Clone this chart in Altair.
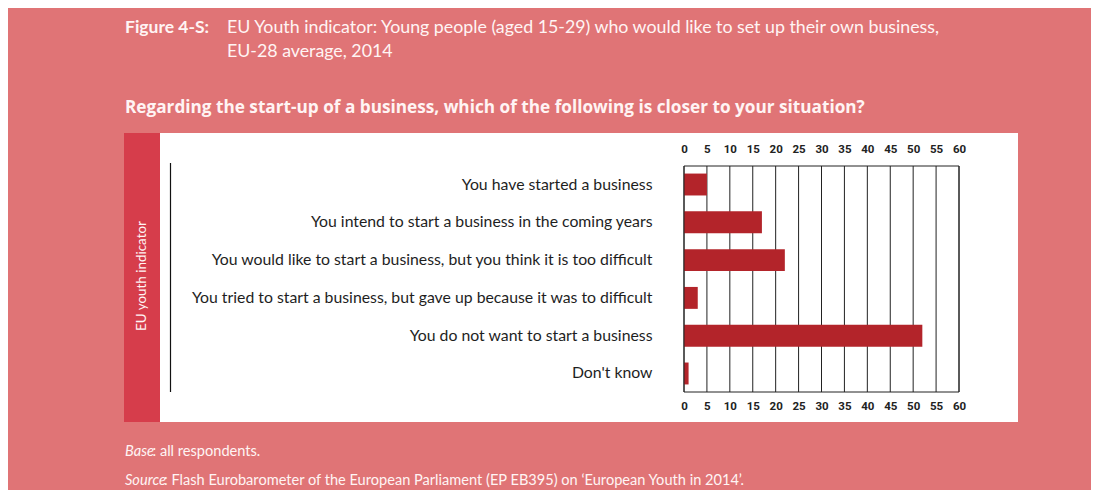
import altair as alt
import pandas as pd

# ---- data ----
categories = [
    "You have started a business",
    "You intend to start a business in the coming years",
    "You would like to start a business, but you think it is too difficult",
    "You tried to start a business, but gave up because it was to difficult",
    "You do not want to start a business",
    "Don't know",
]
values = [5, 17, 22, 3, 52, 1]
ticks = list(range(0, 61, 5))

title_bold = "Figure 4-S:"
title_line1 = "EU Youth indicator: Young people (aged 15-29) who would like to set up their own business,"
title_line2 = "EU-28 average, 2014"
question = "Regarding the start-up of a business, which of the following is closer to your situation?"
side_label = "EU youth indicator"
base_it, base_rest = "Base", ": all respondents."
source_it, source_rest = "Source", ": Flash Eurobarometer of the European Parliament (EP EB395) on \u2018European Youth in 2014\u2019."

df = pd.DataFrame({"cat": categories, "val": values})
df_ticks = pd.DataFrame({"t": ticks})

# ---- layout (page coords -> view coords) ----
VX, VY = 684, 166       # page position of plot-area origin
W, H = 275, 226         # plot area size
TOTAL_W, TOTAL_H = 1083, 482
PAD_L, PAD_T = VX - 8, VY - 8

def P(x):
    return x - VX

def Q(y):
    return y - VY

BG = "#E07476"
STRIP = "#D63D4B"
BAR = "#B3242A"
TXT = "#FFF4F4"
FONT = "Lato"

one = pd.DataFrame({"a": [0]})

def rect(x, x2, y, y2, color):
    return alt.Chart(one).mark_rect(color=color).encode(
        x=alt.value(x), x2=alt.value(x2), y=alt.value(y), y2=alt.value(y2)
    )

def text(s, x, y, size, weight="normal", style="normal", color=TXT, angle=0,
         align="left", font=FONT):
    kw = dict(fontSize=size, font=font, fontWeight=weight, fontStyle=style,
              color=color, align=align, baseline="middle")
    if angle:
        kw["angle"] = angle
    return alt.Chart(one).mark_text(**kw).encode(
        x=alt.value(x), y=alt.value(y), text=alt.value(s)
    )

panel = rect(P(160), P(1018), Q(133), Q(422), "white")
strip = rect(P(124), P(160), Q(133), Q(422), STRIP)
vline = alt.Chart(one).mark_rule(color="#111111", strokeWidth=1.2).encode(
    x=alt.value(P(170.5)), y=alt.value(Q(163)), y2=alt.value(Q(392))
)

texts = [
    text(title_bold, P(125), Q(28), 17.5, weight="bold"),
    text(title_line1, P(227), Q(28), 17.8),
    text(title_line2, P(227), Q(52), 17.8),
    text(question, P(125), Q(108), 17.2, weight="bold", font="Open Sans"),
    text(base_it, P(125), Q(452), 14.6, style="italic"),
    text(base_rest, P(152.5), Q(452), 14.6),
    text(source_it, P(125), Q(481), 14.6, style="italic"),
    text(source_rest, P(164), Q(481), 14.6),
    text(side_label, P(142), Q(276), 13.4, angle=270, align="center"),
]

xscale = alt.Scale(domain=[0, 60], nice=False, zero=True)
yscale = alt.Scale(paddingInner=0.42, paddingOuter=0.2)

tick_font = "Roboto"

def xaxis(orient, pad):
    return alt.Axis(orient=orient, values=ticks, title=None, grid=False,
                    domain=False, ticks=False, tickSize=0, labelPadding=pad,
                    labelFlush=False, labelOverlap=False,
                    labelFont=tick_font, labelFontWeight="bold",
                    labelFontSize=11.5, labelColor="#222222", zindex=2)

grid = alt.Chart(df_ticks).mark_rule(color="#222222", strokeWidth=1).encode(
    x=alt.X("t:Q", scale=xscale, axis=xaxis("bottom", 8))
)

bars = alt.Chart(df).mark_bar(color=BAR).encode(
    x=alt.X("val:Q", scale=xscale, axis=xaxis("top", 12)),
    y=alt.Y("cat:N", sort=categories, scale=yscale,
            axis=alt.Axis(title=None, domain=False, ticks=False, tickSize=0,
                          labelPadding=32, labelLimit=700, labelFont=FONT,
                          labelFontSize=15.8, labelColor="#1E1E1E", zindex=2)),
)

border = alt.Chart(one).mark_rect(fillOpacity=0, stroke="#222222", strokeWidth=1).encode(
    x=alt.value(0), x2=alt.value(W), y=alt.value(0), y2=alt.value(H)
)

chart = alt.layer(panel, strip, vline, *texts, grid, bars, border).resolve_axis(
    x="independent"
).properties(
    width=W, height=H,
    autosize=alt.AutoSizeParams(type="none"),
    padding={"left": PAD_L, "top": PAD_T, "right": TOTAL_W - PAD_L - W,
             "bottom": TOTAL_H - PAD_T - H},
    background=BG,
).configure_view(stroke=None)

chart.save("out.html", embed_options={"renderer": "svg", "actions": False})
